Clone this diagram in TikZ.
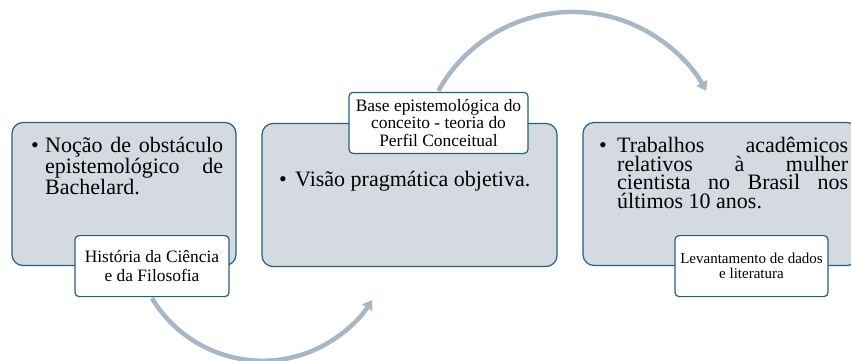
\documentclass[tikz,border=0pt]{standalone}
\usepackage{fontspec}
\setmainfont{Liberation Serif}
\usetikzlibrary{arrows.meta,positioning,backgrounds}
\definecolor{panelfill}{RGB}{213,218,225}
\definecolor{panelline}{RGB}{40,94,128}
\definecolor{cyclegray}{RGB}{168,182,197}
\newcommand{\bitem}[1]{\hangindent=#1\hangafter=1\noindent\makebox[#1][l]{\textbullet}}
\tikzset{
  panel/.style   = {draw=panelline, fill=panelfill, line width=1.2pt,
                    rounded corners=11pt, minimum height=143pt},
  tag/.style     = {draw=panelline, fill=white, line width=1.2pt,
                    rounded corners=4pt, align=center, inner sep=1pt,
                    minimum height=61pt},
  bullets/.style = {anchor=north west, inner sep=0pt, align=justify,
                    font=\fontsize{22}{18.5}\selectfont,
                    execute at begin node={\hyphenpenalty=10000\tolerance=10000
                      \spaceskip=5.5pt plus 60pt minus 1pt}},
  cycle/.style   = {draw=cyclegray, line width=4.5pt,
                    -{Triangle[width=12pt,length=9pt]}}
}
\begin{document}
\begin{tikzpicture}[x=1pt,y=-1pt]
  \useasboundingbox (0,0) rectangle (851,360);

  % the three panels
  \node[panel, minimum width=224pt] (b1) at (124,194) {};
  \node[panel, minimum width=295pt] (b2) at (409.5,195) {};
  \node[panel, minimum width=275pt] (b3) at (720.5,194) {};

  % bullet texts inside the panels
  \node[bullets, text width=192pt] (t1) at (31,137)
    {\bitem{14pt}Noção de obstáculo epistemológico de Bachelard.\par};
  \node[bullets, text width=260pt] (t2) at (279,171)
    {\bitem{16pt}Visão pragmática objetiva.\par};
  \node[bullets, text width=249pt] (t3) at (599,137)
    {\bitem{18pt}Trabalhos acadêmicos relativos à mulher cientista no Brasil nos últimos 10 anos.\par};

  % the tags sitting on the panel edges
  \node[tag, minimum width=154pt, font=\fontsize{17.4}{18.3}\selectfont,
        xshift=28pt] (l1) at (b1.south)
    {História da Ciência\\e da Filosofia};
  \node[tag, minimum width=179pt, font=\fontsize{17.4}{17.8}\selectfont,
        xshift=29pt] (l2) at (b2.north)
    {Base epistemológica do\\conceito - teoria do\\Perfil Conceitual};
  \node[tag, minimum width=153pt, font=\fontsize{15}{15}\selectfont,
        xshift=31pt] (l3) at (b3.south)
    {Levantamento de dados\\e literatura};

  % arrow tips of the cycle
  \coordinate (e1) at (372,297);
  \coordinate (e2) at (705,90);

  % curved arrows behind the boxes
  \begin{pgfonlayer}{background}
    \draw[cycle] (l1.south) ++(0,1) arc[start angle=149, end angle=32, radius=129];
    \draw[cycle] (l2.north) ++(0,-1) arc[start angle=209, end angle=331, radius=153];
  \end{pgfonlayer}

\end{tikzpicture}
\end{document}
